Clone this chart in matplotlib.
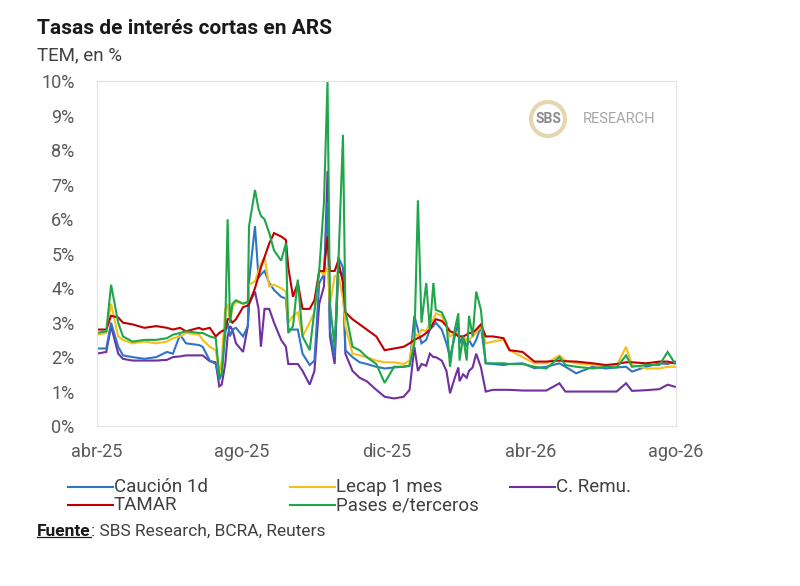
import numpy as np
import pandas as pd
import matplotlib
matplotlib.use("Agg")
import matplotlib.pyplot as plt
from matplotlib.patches import Circle
from matplotlib.lines import Line2D

plt.rcParams['font.family'] = ['Roboto', 'DejaVu Sans']

#### DATA ####
fechas = ['2025-04-01', '2025-04-09', '2025-04-13', '2025-04-19', '2025-04-23', '2025-05-01',
          '2025-05-11', '2025-05-21', '2025-05-30', '2025-06-04', '2025-06-10', '2025-06-15',
          '2025-06-26', '2025-06-29', '2025-07-05', '2025-07-10', '2025-07-13', '2025-07-15',
          '2025-07-18', '2025-07-20', '2025-07-22', '2025-07-24', '2025-07-27', '2025-08-02',
          '2025-08-06', '2025-08-07', '2025-08-12', '2025-08-15', '2025-08-17', '2025-08-20',
          '2025-08-24', '2025-08-28', '2025-09-03', '2025-09-07', '2025-09-09', '2025-09-13',
          '2025-09-17', '2025-09-21', '2025-09-27', '2025-10-01', '2025-10-05', '2025-10-09',
          '2025-10-12', '2025-10-14', '2025-10-18', '2025-10-21', '2025-10-25', '2025-10-27',
          '2025-11-02', '2025-11-08', '2025-11-14', '2025-11-22', '2025-11-29', '2025-12-07',
          '2025-12-15', '2025-12-20', '2025-12-24', '2025-12-27', '2025-12-30', '2026-01-03',
          '2026-01-06', '2026-01-09', '2026-01-11', '2026-01-16', '2026-01-20', '2026-01-23',
          '2026-01-27', '2026-01-30', '2026-01-31', '2026-02-03', '2026-02-06', '2026-02-08',
          '2026-02-11', '2026-02-14', '2026-02-18', '2026-02-22', '2026-02-28', '2026-03-09',
          '2026-03-14', '2026-03-25', '2026-04-04', '2026-04-14', '2026-04-25', '2026-04-30',
          '2026-05-09', '2026-05-23', '2026-06-03', '2026-06-12', '2026-06-20', '2026-06-25',
          '2026-07-07', '2026-07-18', '2026-07-25', '2026-07-31']

caucion = [2.25, 2.25, 3.00, 2.30, 2.05, 2.00, 1.95, 2.00, 2.15, 2.10, 2.65, 2.40,
           2.35, 2.30, 1.90, 1.80, 1.35, 1.50, 2.70, 3.00, 2.60, 2.80, 2.85, 2.60,
           2.90, 4.20, 5.80, 4.30, 4.40, 4.50, 4.15, 3.95, 3.75, 3.70, 2.80, 2.80,
           2.80, 2.10, 1.77, 1.90, 4.15, 4.40, 6.50, 2.80, 2.00, 4.90, 4.60, 2.20,
           2.00, 1.85, 1.80, 1.72, 1.67, 1.70, 1.72, 1.75, 3.20, 2.80, 2.40, 2.50,
           2.80, 2.90, 3.00, 2.80, 2.40, 2.00, 2.60, 3.00, 2.40, 2.60, 2.30, 2.50,
           2.30, 2.50, 2.90, 1.82, 1.80, 1.77, 1.80, 1.82, 1.68, 1.72, 1.82, 1.72,
           1.53, 1.72, 1.67, 1.70, 1.72, 1.58, 1.72, 1.82, 1.80, 1.87]

lecap = [2.65, 2.70, 3.55, 2.60, 2.50, 2.40, 2.45, 2.40, 2.45, 2.55, 2.60, 2.70,
         2.65, 2.50, 2.30, 2.20, 1.55, 1.90, 3.40, 3.55, 3.00, 3.45, 3.60, 3.55,
         3.60, 4.10, 4.20, 4.50, 4.70, 4.90, 4.05, 4.10, 4.00, 3.90, 3.00, 3.20,
         3.30, 2.60, 3.00, 3.30, 4.50, 4.40, 4.60, 3.50, 4.35, 4.40, 3.70, 2.90,
         2.10, 2.05, 2.00, 1.90, 1.85, 1.85, 1.80, 1.90, 2.70, 2.60, 2.80, 2.75,
         3.00, 3.10, 3.27, 3.20, 2.90, 2.60, 2.70, 2.70, 2.60, 2.60, 2.50, 2.50,
         2.60, 2.70, 2.90, 2.40, 2.45, 2.50, 2.20, 2.00, 1.82, 1.82, 2.05, 1.90,
         1.82, 1.77, 1.72, 1.75, 2.30, 1.77, 1.67, 1.67, 1.72, 1.72]

remu = [2.10, 2.15, 2.90, 2.10, 1.95, 1.90, 1.90, 1.90, 1.92, 2.00, 2.02, 2.05,
        2.05, 2.05, 1.88, 1.85, 1.15, 1.20, 1.80, 2.60, 2.90, 2.80, 2.40, 2.15,
        2.90, 3.55, 3.90, 3.40, 2.30, 3.40, 3.40, 3.00, 2.50, 2.30, 1.80, 1.80,
        1.80, 1.60, 1.20, 1.60, 3.55, 4.05, 7.40, 2.60, 1.80, 4.50, 4.40, 2.10,
        1.60, 1.40, 1.30, 1.05, 0.85, 0.80, 0.85, 1.05, 2.30, 1.60, 1.80, 1.75,
        2.10, 2.00, 2.00, 1.90, 1.60, 0.95, 1.40, 1.70, 1.30, 1.50, 1.40, 1.60,
        1.70, 2.10, 1.70, 1.00, 1.05, 1.05, 1.05, 1.03, 1.03, 1.03, 1.24, 1.00,
        1.00, 1.00, 1.00, 1.00, 1.24, 1.02, 1.04, 1.07, 1.20, 1.14]

tamar = [2.80, 2.80, 3.20, 3.15, 3.00, 2.95, 2.85, 2.90, 2.85, 2.80, 2.85, 2.75,
         2.85, 2.80, 2.85, 2.60, 2.70, 2.75, 2.80, 3.10, 3.10, 3.00, 3.10, 3.45,
         3.50, 3.55, 4.00, 4.35, 4.60, 4.90, 5.30, 5.60, 5.50, 5.40, 4.60, 3.75,
         4.15, 3.40, 3.40, 3.65, 4.50, 4.50, 5.50, 4.50, 4.50, 4.80, 4.15, 3.30,
         3.10, 2.95, 2.80, 2.60, 2.20, 2.25, 2.30, 2.40, 2.50, 2.55, 2.60, 2.70,
         2.80, 3.00, 3.10, 3.05, 2.90, 2.75, 2.70, 2.60, 2.60, 2.60, 2.65, 2.70,
         2.70, 2.80, 2.95, 2.60, 2.60, 2.55, 2.20, 2.15, 1.87, 1.87, 1.90, 1.88,
         1.87, 1.82, 1.77, 1.80, 1.85, 1.85, 1.82, 1.87, 1.87, 1.82]

pases = [2.70, 2.75, 4.10, 3.00, 2.60, 2.45, 2.50, 2.50, 2.55, 2.65, 2.70, 2.75,
         2.70, 2.70, 2.60, 2.55, 1.45, 1.50, 2.90, 6.00, 3.00, 3.55, 3.65, 3.55,
         3.60, 5.80, 6.85, 6.30, 6.10, 6.00, 5.60, 5.10, 4.80, 5.30, 2.70, 2.90,
         4.25, 2.60, 2.20, 3.35, 4.50, 6.50, 10.0, 3.55, 2.30, 4.60, 8.45, 3.35,
         2.30, 2.20, 2.00, 1.80, 1.25, 1.72, 1.72, 1.75, 2.40, 6.55, 3.00, 4.15,
         2.80, 4.15, 3.37, 3.30, 3.00, 1.72, 2.80, 3.27, 1.90, 2.60, 1.90, 3.20,
         2.60, 3.90, 3.37, 1.82, 1.82, 1.82, 1.80, 1.80, 1.72, 1.67, 2.00, 1.77,
         1.72, 1.67, 1.72, 1.70, 2.05, 1.72, 1.77, 1.77, 2.15, 1.82]

etiquetas = ['Caución 1d', 'Lecap 1 mes', 'C. Remu.', 'TAMAR', 'Pases e/terceros']
colores = ['#2f75c5', '#f7bf1c', '#7030a0', '#c00000', '#1fa64a']

tick_fechas = ['2025-04-01', '2025-08-01', '2025-12-01', '2026-04-01', '2026-08-01']
tick_labels = ['abr-25', 'ago-25', 'dic-25', 'abr-26', 'ago-26']

df = pd.DataFrame({'Caución 1d': caucion, 'Lecap 1 mes': lecap, 'C. Remu.': remu,
                   'TAMAR': tamar, 'Pases e/terceros': pases},
                  index=pd.to_datetime(fechas))

#### PLOT ####
fig = plt.figure(figsize=(8, 5.86), dpi=100)
ax = fig.add_axes([0.121, 0.273, 0.724, 0.588])

orden = ['C. Remu.', 'Caución 1d', 'Lecap 1 mes', 'TAMAR', 'Pases e/terceros']
for nombre in orden:
    c = colores[etiquetas.index(nombre)]
    ax.plot(df.index, df[nombre], color=c, lw=1.5, solid_joinstyle='miter')

ax.set_ylim(0, 10)
ax.set_yticks(np.arange(0, 11, 1))
ax.set_yticklabels([f'{i}%' for i in range(11)])
ax.set_xlim(pd.Timestamp('2025-04-01'), pd.Timestamp('2026-08-01'))
ax.set_xticks(pd.to_datetime(tick_fechas))
ax.set_xticklabels(tick_labels)
ax.tick_params(length=0, labelsize=13, labelcolor='#595959')
ax.tick_params(axis='y', pad=16)
ax.tick_params(axis='x', pad=12)
for s in ax.spines.values():
    s.set_color('#e3e3e3')
    s.set_linewidth(0.8)

# title
fig.text(0.046, 0.952, 'Tasas de interés cortas en ARS', fontsize=15, fontweight='bold',
         color='#1a1a1a', va='center')
fig.text(0.046, 0.905, 'TEM, en %', fontsize=13.5, color='#404040', va='center')

# logo
fig.patches.append(Circle((5.48, 5.86 - 1.19), 0.17, transform=fig.dpi_scale_trans,
                          fill=False, ec='#e6d6b0', lw=3))
fig.text(5.48 / 8, 1 - 119 / 586, 'SBS', fontsize=10, fontweight='bold', color='#8a8a8a',
         ha='center', va='center')
fig.text(583 / 800, 1 - 119 / 586, 'RESEARCH', fontsize=10.5, color='#a6a6a6', va='center')

# legend (manual)
leg_pos = {'Caución 1d': (68, 487), 'Lecap 1 mes': (290, 487), 'C. Remu.': (510, 487),
           'TAMAR': (68, 505), 'Pases e/terceros': (290, 505)}
for nombre in etiquetas:
    x0, y0 = leg_pos[nombre]
    c = colores[etiquetas.index(nombre)]
    fig.add_artist(Line2D([x0 / 800, (x0 + 45) / 800], [1 - y0 / 586, 1 - y0 / 586],
                          color=c, lw=1.5, transform=fig.transFigure))
    fig.text((x0 + 46) / 800, 1 - y0 / 586, nombre, fontsize=13.5, color='#404040',
             va='center')

# source
t1 = fig.text(37 / 800, 1 - 531 / 586, 'Fuente', fontsize=12.5, fontweight='bold',
              color='#1a1a1a', va='center')
fig.canvas.draw()
bb = t1.get_window_extent().transformed(fig.transFigure.inverted())
fig.add_artist(Line2D([bb.x0, bb.x1], [bb.y0 + 0.002, bb.y0 + 0.002], color='#1a1a1a',
                      lw=0.9, transform=fig.transFigure))
fig.text(bb.x1, 1 - 531 / 586, ': SBS Research, BCRA, Reuters', fontsize=12.5,
         color='#404040', va='center')

fig.savefig('out.png', dpi=100)
